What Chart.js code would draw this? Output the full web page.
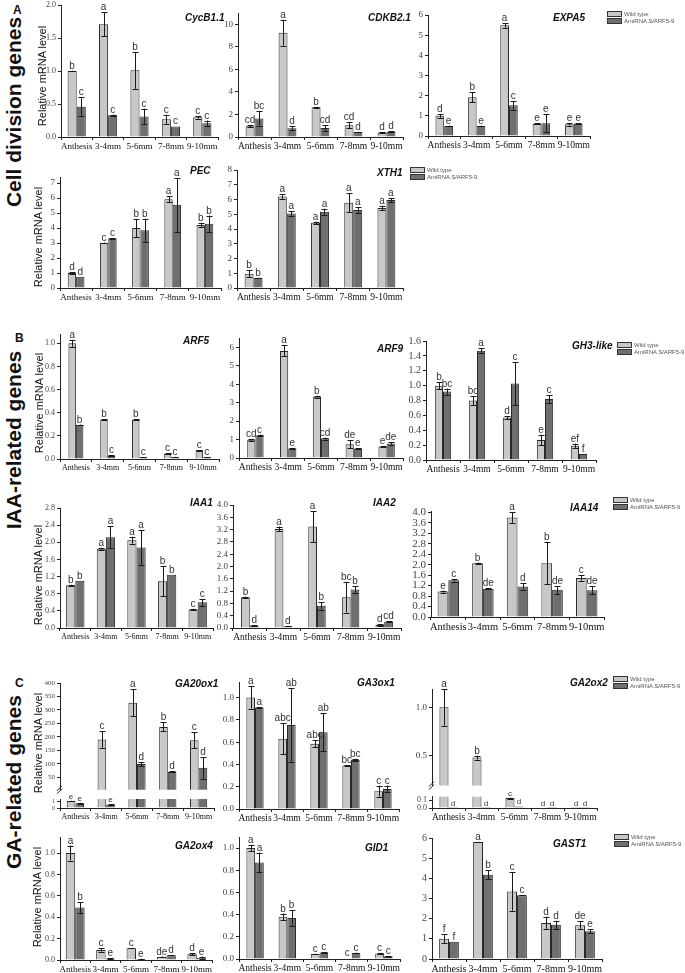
<!DOCTYPE html>
<html>
<head>
<meta charset="utf-8">
<script src="https://cdn.jsdelivr.net/npm/chart.js@4"></script>
<style>
body { margin: 0; background: #fff; }
#fig { position: relative; width: 685px; height: 973px; overflow: hidden; font-family: "Liberation Sans", Arial, sans-serif; }
#fig canvas { position: absolute; }
.t { position: absolute; font: italic bold 10px "Liberation Sans", Arial, sans-serif; color: #111; white-space: nowrap; transform: translateY(-50%); }
.rot { position: absolute; white-space: nowrap; transform: translate(-50%, -50%) rotate(-90deg); color: #111; }
.grp { font-weight: bold; font-size: 21px; }
.yt { font-size: 11px; }
.lt { position: absolute; font-weight: bold; font-size: 12px; color: #111; }
.lg { position: absolute; font-size: 6px; color: #555; line-height: 7px; white-space: nowrap; }
.lg span { display: inline-block; width: 13px; height: 4px; border: 1px solid #333; margin-right: 2px; vertical-align: middle; }
</style>
</head>
<body>
<div id="fig"></div>
<script>
var cats = ['Anthesis', '3-4mm', '5-6mm', '7-8mm', '9-10mm'];
var serif = "'Liberation Serif', 'Times New Roman', 'DejaVu Serif', serif";

// ---- Cell division genes ----
var cycB_wt = [1.0, 1.71, 1.01, 0.27, 0.30];
var cycB_wtErr = [0.005, 0.18, 0.28, 0.07, 0.02];
var cycB_ami = [0.46, 0.33, 0.31, 0.16, 0.21];
var cycB_amiErr = [0.14, 0.01, 0.12, 0, 0.04];
var cycB_wtSig = ['b', 'a', 'b', 'c', 'c'];
var cycB_amiSig = ['c', 'c', 'c', 'c', 'c'];
var cycB_ticks = [0, 0.5, 1.0, 1.5, 2.0];

var cdkb_wt = [0.96, 9.25, 2.63, 1.04, 0.40];
var cdkb_wtErr = [0.1, 1.15, 0.05, 0.25, 0.02];
var cdkb_ami = [1.65, 0.78, 0.80, 0.45, 0.45];
var cdkb_amiErr = [0.65, 0.2, 0.25, 0.02, 0.05];
var cdkb_wtSig = ['cd', 'a', 'b', 'cd', 'd'];
var cdkb_amiSig = ['bc', 'd', 'cd', 'd', 'd'];
var cdkb_ticks = [0, 2, 4, 6, 8, 10];

var expa_wt = [1.0, 1.92, 5.49, 0.60, 0.58];
var expa_wtErr = [0.1, 0.25, 0.12, 0.02, 0.07];
var expa_ami = [0.50, 0.50, 1.52, 0.63, 0.61];
var expa_amiErr = [0.02, 0.02, 0.22, 0.45, 0.03];
var expa_wtSig = ['d', 'b', 'a', 'e', 'e'];
var expa_amiSig = ['e', 'e', 'c', 'e', 'e'];
var expa_ticks = [0, 1, 2, 3, 4, 5, 6];

var pec_wt = [1.0, 3.0, 4.0, 5.92, 4.2];
var pec_wtErr = [0.05, 0.03, 0.6, 0.2, 0.15];
var pec_ami = [0.75, 3.32, 3.85, 5.55, 4.28];
var pec_amiErr = [0, 0.02, 0.78, 1.8, 0.55];
var pec_wtSig = ['d', 'c', 'b', 'a', 'b'];
var pec_amiSig = ['d', 'c', 'b', 'a', 'b'];
var pec_ticks = [0, 1, 2, 3, 4, 5, 6, 7];

var xth_wt = [0.97, 6.2, 4.42, 5.78, 5.42];
var xth_wtErr = [0.25, 0.15, 0.08, 0.65, 0.15];
var xth_ami = [0.68, 5.05, 5.17, 5.28, 5.96];
var xth_amiErr = [0.02, 0.15, 0.2, 0.2, 0.12];
var xth_wtSig = ['b', 'a', 'a', 'a', 'a'];
var xth_amiSig = ['b', 'a', 'a', 'a', 'a'];
var xth_ticks = [0, 1, 2, 3, 4, 5, 6, 7, 8];

// ---- IAA-related genes ----
var arf5_wt = [1.0, 0.34, 0.34, 0.046, 0.075];
var arf5_wtErr = [0.03, 0.003, 0.003, 0.005, 0.003];
var arf5_ami = [0.296, 0.03, 0.015, 0.017, 0.015];
var arf5_amiErr = [0.002, 0.002, 0.002, 0.002, 0.002];
var arf5_wtSig = ['a', 'b', 'b', 'c', 'c'];
var arf5_amiSig = ['b', 'c', 'c', 'c', 'c'];
var arf5_ticks = [0, 0.2, 0.4, 0.6, 0.8, 1.0];

var arf9_wt = [0.99, 5.8, 3.32, 0.75, 0.62];
var arf9_wtErr = [0.05, 0.3, 0.05, 0.2, 0.03];
var arf9_ami = [1.22, 0.52, 1.05, 0.50, 0.78];
var arf9_amiErr = [0.05, 0.02, 0.05, 0.02, 0.06];
var arf9_wtSig = ['cd', 'a', 'b', 'de', 'e'];
var arf9_amiSig = ['c', 'e', 'cd', 'e', 'de'];
var arf9_ticks = [0, 1, 2, 3, 4, 5, 6];

var gh3_wt = [1.0, 0.80, 0.57, 0.27, 0.19];
var gh3_wtErr = [0.05, 0.06, 0.02, 0.07, 0.03];
var gh3_ami = [0.92, 1.47, 1.03, 0.82, 0.08];
var gh3_amiErr = [0.04, 0.03, 0.29, 0.05, 0];
var gh3_wtSig = ['b', 'bc', 'd', 'e', 'ef'];
var gh3_amiSig = ['bc', 'a', 'c', 'c', 'f'];
var gh3_ticks = [0, 0.2, 0.4, 0.6, 0.8, 1.0, 1.2, 1.4, 1.6];

var iaa1_wt = [1.0, 1.85, 2.05, 1.09, 0.44];
var iaa1_wtErr = [0.01, 0.02, 0.08, 0.35, 0.01];
var iaa1_ami = [1.10, 2.12, 1.88, 1.24, 0.60];
var iaa1_amiErr = [0, 0.26, 0.4, 0, 0.08];
var iaa1_wtSig = ['b', 'a', 'a', 'b', 'c'];
var iaa1_amiSig = ['b', 'a', 'a', 'b', 'c'];
var iaa1_ticks = [0, 0.4, 0.8, 1.2, 1.6, 2.0, 2.4, 2.8];

var iaa2_wt = [1.0, 3.22, 3.3, 1.0, 0.10];
var iaa2_wtErr = [0.02, 0.08, 0.5, 0.5, 0.02];
var iaa2_ami = [0.08, 0.06, 0.72, 1.25, 0.20];
var iaa2_amiErr = [0.01, 0.01, 0.12, 0.1, 0.02];
var iaa2_wtSig = ['b', 'a', 'a', 'bc', 'd'];
var iaa2_amiSig = ['d', 'd', 'b', 'b', 'cd'];
var iaa2_ticks = [0, 0.4, 0.8, 1.2, 1.6, 2.0, 2.4, 2.8, 3.2, 3.6, 4.0];

var iaa14_wt = [0.97, 2.05, 3.8, 2.05, 1.49];
var iaa14_wtErr = [0.04, 0.03, 0.2, 0.8, 0.1];
var iaa14_ami = [1.40, 1.08, 1.17, 1.04, 1.02];
var iaa14_amiErr = [0.05, 0.02, 0.12, 0.15, 0.15];
var iaa14_wtSig = ['e', 'b', 'a', 'b', 'c'];
var iaa14_amiSig = ['c', 'de', 'd', 'de', 'de'];
var iaa14_ticks = [0, 0.4, 0.8, 1.2, 1.6, 2.0, 2.4, 2.8, 3.2, 3.6, 4.0];

// ---- GA-related genes ----
var ga20_wt = [1.0, 190, 327, 237, 187];
var ga20_wtErr = [0.05, 30, 50, 17, 30];
var ga20_ami = [0.7, 0.5, 99, 70, 85];
var ga20_amiErr = [0.05, 0.05, 8, 2, 40];
var ga20_wtSig = ['e', 'c', 'a', 'b', 'c'];
var ga20_amiSig = ['e', 'e', 'd', 'd', 'd'];
var ga20_ticks = [50, 100, 150, 200, 250, 300, 350, 400];
var ga20_lowTicks = [0, 1];

var ga3_wt = [1.0, 0.63, 0.585, 0.39, 0.16];
var ga3_wtErr = [0.1, 0.14, 0.03, 0.005, 0.05];
var ga3_ami = [0.91, 0.755, 0.69, 0.44, 0.18];
var ga3_amiErr = [0.003, 0.33, 0.17, 0.01, 0.03];
var ga3_wtSig = ['a', 'abc', 'abc', 'bc', 'c'];
var ga3_amiSig = ['a', 'ab', 'ab', 'bc', 'c'];
var ga3_ticks = [0, 0.2, 0.4, 0.6, 0.8, 1.0];

var ga2ox2_wt = [1.0, 0.48, 0.124, 0.005, 0.001];
var ga2ox2_wtErr = [0.19, 0.02, 0.006, 0, 0];
var ga2ox2_ami = [0.001, 0.001, 0.02, 0.001, 0.001];
var ga2ox2_amiErr = [0, 0, 0, 0, 0];
var ga2ox2_wtSig = ['a', 'b', 'c', 'd', 'd'];
var ga2ox2_amiSig = ['d', 'd', 'd', 'd', 'd'];
var ga2ox2_ticks = [0.5, 1.0];
var ga2ox2_lowTicks = [0, 0.1];

var ga2ox4_wt = [1.0, 0.093, 0.11, 0.03, 0.053];
var ga2ox4_wtErr = [0.07, 0.015, 0.002, 0.002, 0.01];
var ga2ox4_ami = [0.49, 0.015, 0.01, 0.045, 0.022];
var ga2ox4_amiErr = [0.05, 0.003, 0.002, 0.002, 0.01];
var ga2ox4_wtSig = ['a', 'c', 'c', 'de', 'd'];
var ga2ox4_amiSig = ['b', 'e', 'e', 'd', 'e'];
var ga2ox4_ticks = [0, 0.2, 0.4, 0.6, 0.8, 1.0];

var gid1_wt = [1.0, 0.38, 0.045, 0.005, 0.05];
var gid1_wtErr = [0.03, 0.03, 0.003, 0, 0.003];
var gid1_ami = [0.87, 0.37, 0.058, 0.055, 0.025];
var gid1_amiErr = [0.09, 0.07, 0.003, 0.003, 0.003];
var gid1_wtSig = ['a', 'b', 'c', 'c', 'c'];
var gid1_amiSig = ['a', 'b', 'c', 'c', 'c'];
var gid1_ticks = [0, 0.2, 0.4, 0.6, 0.8, 1.0];

var gast_wt = [1.0, 5.8, 3.35, 1.79, 1.67];
var gast_wtErr = [0.22, 0.01, 0.95, 0.3, 0.2];
var gast_ami = [0.85, 4.18, 3.16, 1.70, 1.37];
var gast_amiErr = [0, 0.22, 0.01, 0.2, 0.1];
var gast_wtSig = ['f', 'a', 'c', 'd', 'de'];
var gast_amiSig = ['f', 'b', 'c', 'd', 'e'];
var gast_ticks = [0, 1, 2, 3, 4, 5, 6];

var fig = document.getElementById('fig');

// error bars, letters and axis break marks
var barMarks = {
  id: 'barMarks',
  afterDatasetsDraw: function(chart, args, opts) {
    var ctx = chart.ctx, ys = chart.scales.y;
    ctx.save();
    ctx.strokeStyle = '#1a1a1a';
    ctx.lineWidth = 1;
    ctx.fillStyle = '#333';
    ctx.textAlign = 'center';
    ctx.font = opts.size + 'px "Liberation Sans", Arial, sans-serif';
    chart.data.datasets.forEach(function(ds, di) {
      chart.getDatasetMeta(di).data.forEach(function(bar, i) {
        var v = ds.data[i], e = ds.err[i];
        if (v > ys.max || v < ys.min) return;
        var x = Math.round(bar.x) + 0.5;
        var hi = ys.getPixelForValue(v + e);
        if (e > 0) {
          var lo = ys.getPixelForValue(Math.max(v - e, ys.min));
          ctx.beginPath();
          ctx.moveTo(x, hi); ctx.lineTo(x, lo);
          ctx.moveTo(x - 3, Math.round(hi) + 0.5); ctx.lineTo(x + 3, Math.round(hi) + 0.5);
          ctx.moveTo(x - 3, Math.round(lo) + 0.5); ctx.lineTo(x + 3, Math.round(lo) + 0.5);
          ctx.stroke();
        }
        ctx.fillText(ds.sig[i], bar.x, Math.min(hi, bar.y) - 2);
      });
    });
    if (opts.brk) {
      var a = chart.chartArea;
      ctx.beginPath();
      ctx.moveTo(a.left - 3, a.bottom + 1); ctx.lineTo(a.left + 2, a.bottom - 4);
      ctx.moveTo(a.left - 3, a.bottom + 4); ctx.lineTo(a.left + 2, a.bottom - 1);
      ctx.stroke();
    }
    ctx.restore();
  }
};
Chart.register(barMarks);

function drawChart(p, o) {
  var yW = 30, padR = 8;
  var xH = o.showX ? 16 : 0;
  var W = p.x2 - p.ax + yW + padR;
  var H = o.yBot - o.yTop + o.padT + xH;
  var cv = document.createElement('canvas');
  cv.width = W;
  cv.height = H;
  cv.style.left = (p.ax - yW) + 'px';
  cv.style.top = (o.yTop - o.padT) + 'px';
  fig.appendChild(cv);

  new Chart(cv, {
    type: 'bar',
    data: {
      labels: cats,
      datasets: [
        { data: p.wt, err: p.wtE, sig: p.wtS, backgroundColor: '#c8c8c8', borderColor: '#2a2a2a', borderWidth: 1, borderSkipped: 'start' },
        { data: p.am, err: p.amE, sig: p.amS, backgroundColor: '#6f6f6f', borderColor: '#2a2a2a', borderWidth: 1, borderSkipped: 'start' }
      ]
    },
    options: {
      responsive: false,
      animation: false,
      devicePixelRatio: 1,
      layout: { padding: { top: o.padT, right: padR, left: 0, bottom: 0 } },
      datasets: { bar: { categoryPercentage: p.cp, barPercentage: 1 } },
      plugins: {
        legend: { display: false },
        tooltip: { enabled: false },
        barMarks: { size: o.ls || 10, brk: o.brk }
      },
      scales: {
        x: {
          display: o.showX,
          grid: { display: true, drawOnChartArea: false, drawTicks: true, tickLength: 3, color: '#222' },
          border: { display: true, color: '#222', width: 1 },
          ticks: { font: { family: serif, size: p.xf }, color: '#111', padding: 1, maxRotation: 0, autoSkip: false },
          afterFit: function(s) { s.height = xH; }
        },
        y: {
          min: o.min,
          max: o.max,
          afterBuildTicks: function(s) { s.ticks = o.ticks.map(function(v) { return { value: v }; }); },
          grid: { drawOnChartArea: false, drawTicks: true, tickLength: 3, color: '#222' },
          border: { display: true, color: '#222', width: 1 },
          ticks: {
            autoSkip: false,
            font: { family: serif, size: o.tf || p.tf },
            color: '#444',
            padding: 2,
            callback: function(v) { return v.toFixed(o.dec !== undefined ? o.dec : p.dec); }
          },
          afterFit: function(s) { s.width = yW; }
        }
      }
    }
  });
}

function addText(cls, html, x, y) {
  var d = document.createElement('div');
  d.className = cls;
  d.innerHTML = html;
  d.style.left = x + 'px';
  d.style.top = y + 'px';
  fig.appendChild(d);
}

function legend(x, y) {
  addText('lg', '<span style="background:#c8c8c8"></span>Wild type', x, y);
  addText('lg', '<span style="background:#6f6f6f"></span>AmiRNA <i>Sl</i>ARF5-9', x, y + 7);
}

var panels = [
  { title: 'CycB1.1', tx: 185, ty: 17, wt: cycB_wt, wtE: cycB_wtErr, am: cycB_ami, amE: cycB_amiErr, wtS: cycB_wtSig, amS: cycB_amiSig, ticks: cycB_ticks,
    ax: 61, x2: 218, yTop: 5, yBot: 137, max: 2.0, dec: 1, cp: 0.58, tf: 8, xf: 9 },
  { title: 'CDKB2.1', tx: 368, ty: 17, wt: cdkb_wt, wtE: cdkb_wtErr, am: cdkb_ami, amE: cdkb_amiErr, wtS: cdkb_wtSig, amS: cdkb_amiSig, ticks: cdkb_ticks,
    ax: 238, x2: 403, yTop: 13, yBot: 137, max: 11, dec: 0, cp: 0.54, tf: 9, xf: 9.5 },
  { title: 'EXPA5', tx: 553, ty: 17, wt: expa_wt, wtE: expa_wtErr, am: expa_ami, amE: expa_amiErr, wtS: expa_wtSig, amS: expa_amiSig, ticks: expa_ticks,
    ax: 428, x2: 590, yTop: 15, yBot: 136, max: 6, dec: 0, cp: 0.54, tf: 9, xf: 9.5 },
  { title: 'PEC', tx: 190, ty: 170, wt: pec_wt, wtE: pec_wtErr, am: pec_ami, amE: pec_amiErr, wtS: pec_wtSig, amS: pec_amiSig, ticks: pec_ticks,
    ax: 60, x2: 221, yTop: 177, yBot: 288, max: 7.4, dec: 0, cp: 0.52, tf: 9, xf: 9 },
  { title: 'XTH1', tx: 377, ty: 172, wt: xth_wt, wtE: xth_wtErr, am: xth_ami, amE: xth_amiErr, wtS: xth_wtSig, amS: xth_amiSig, ticks: xth_ticks,
    ax: 237, x2: 403, yTop: 170, yBot: 288, max: 8, dec: 0, cp: 0.54, tf: 9, xf: 9.5 },
  { title: 'ARF5', tx: 183, ty: 340, wt: arf5_wt, wtE: arf5_wtErr, am: arf5_ami, amE: arf5_amiErr, wtS: arf5_wtSig, amS: arf5_amiSig, ticks: arf5_ticks,
    ax: 60, x2: 219, yTop: 334, yBot: 459, max: 1.08, dec: 1, cp: 0.47, tf: 8, xf: 8 },
  { title: 'ARF9', tx: 377, ty: 348, wt: arf9_wt, wtE: arf9_wtErr, am: arf9_ami, amE: arf9_amiErr, wtS: arf9_wtSig, amS: arf9_amiSig, ticks: arf9_ticks,
    ax: 239, x2: 403, yTop: 338, yBot: 458, max: 6.5, dec: 0, cp: 0.5, tf: 9, xf: 9.5 },
  { title: 'GH3-like', tx: 572, ty: 345, wt: gh3_wt, wtE: gh3_wtErr, am: gh3_ami, amE: gh3_amiErr, wtS: gh3_wtSig, amS: gh3_amiSig, ticks: gh3_ticks,
    ax: 426, x2: 596, yTop: 341, yBot: 460, max: 1.6, dec: 1, cp: 0.48, tf: 10, xf: 9.5 },
  { title: 'IAA1', tx: 190, ty: 502, wt: iaa1_wt, wtE: iaa1_wtErr, am: iaa1_ami, amE: iaa1_amiErr, wtS: iaa1_wtSig, amS: iaa1_amiSig, ticks: iaa1_ticks,
    ax: 60, x2: 213, yTop: 508, yBot: 628, max: 2.8, dec: 1, cp: 0.6, tf: 8, xf: 8 },
  { title: 'IAA2', tx: 373, ty: 502, wt: iaa2_wt, wtE: iaa2_wtErr, am: iaa2_ami, amE: iaa2_amiErr, wtS: iaa2_wtSig, amS: iaa2_amiSig, ticks: iaa2_ticks,
    ax: 233, x2: 401, yTop: 505, yBot: 628, max: 4.0, dec: 1, cp: 0.52, tf: 9, xf: 9.5 },
  { title: 'IAA14', tx: 570, ty: 507, wt: iaa14_wt, wtE: iaa14_wtErr, am: iaa14_ami, amE: iaa14_amiErr, wtS: iaa14_wtSig, amS: iaa14_amiSig, ticks: iaa14_ticks,
    ax: 431, x2: 604, yTop: 511, yBot: 617, max: 4.05, dec: 1, cp: 0.62, tf: 11, xf: 10.5 },
  { title: 'GA20ox1', tx: 175, ty: 683, wt: ga20_wt, wtE: ga20_wtErr, am: ga20_ami, amE: ga20_amiErr, wtS: ga20_wtSig, amS: ga20_amiSig, ticks: ga20_ticks,
    ax: 60, x2: 214, yTop: 683, yBot: 808, max: 400, dec: 0, cp: 0.56, tf: 7, xf: 8,
    brk: { min: 3.5, yBrk: 796, yLow: 799, lowMax: 1.3, lowTicks: ga20_lowTicks, lowDec: 0 } },
  { title: 'GA3ox1', tx: 357, ty: 682, wt: ga3_wt, wtE: ga3_wtErr, am: ga3_ami, amE: ga3_amiErr, wtS: ga3_wtSig, amS: ga3_amiSig, ticks: ga3_ticks,
    ax: 239, x2: 399, yTop: 682, yBot: 809, max: 1.14, dec: 1, cp: 0.54, tf: 9, xf: 9.5 },
  { title: 'GA2ox2', tx: 570, ty: 682, wt: ga2ox2_wt, wtE: ga2ox2_wtErr, am: ga2ox2_ami, amE: ga2ox2_amiErr, wtS: ga2ox2_wtSig, amS: ga2ox2_amiSig, ticks: ga2ox2_ticks,
    ax: 432, x2: 597, yTop: 689, yBot: 808, max: 1.19, dec: 1, cp: 0.55, tf: 9, xf: 9.5,
    brk: { min: 0.19, yBrk: 793, yLow: 796, lowMax: 0.14, lowTicks: ga2ox2_lowTicks, lowDec: 1 } },
  { title: 'GA2ox4', tx: 175, ty: 845, wt: ga2ox4_wt, wtE: ga2ox4_wtErr, am: ga2ox4_ami, amE: ga2ox4_amiErr, wtS: ga2ox4_wtSig, amS: ga2ox4_amiSig, ticks: ga2ox4_ticks,
    ax: 60, x2: 212, yTop: 837, yBot: 960, max: 1.15, dec: 1, cp: 0.62, tf: 8, xf: 9 },
  { title: 'GID1', tx: 365, ty: 847, wt: gid1_wt, wtE: gid1_wtErr, am: gid1_ami, amE: gid1_amiErr, wtS: gid1_wtSig, amS: gid1_amiSig, ticks: gid1_ticks,
    ax: 239, x2: 400, yTop: 837, yBot: 959, max: 1.1, dec: 1, cp: 0.54, tf: 9, xf: 9.5 },
  { title: 'GAST1', tx: 553, ty: 843, wt: gast_wt, wtE: gast_wtErr, am: gast_ami, amE: gast_amiErr, wtS: gast_wtSig, amS: gast_amiSig, ticks: gast_ticks,
    ax: 432, x2: 602, yTop: 838, yBot: 959, max: 6, dec: 0, cp: 0.58, tf: 10, xf: 10 }
];

panels.forEach(function(p) {
  if (p.brk) {
    var b = p.brk;
    drawChart(p, { yTop: p.yTop, yBot: b.yBrk, min: b.min, max: p.max, ticks: p.ticks, showX: false, padT: 14, brk: true });
    drawChart(p, { yTop: b.yLow, yBot: p.yBot, min: 0, max: b.lowMax, ticks: b.lowTicks, showX: true, padT: 6, dec: b.lowDec, tf: p.tf - 1, ls: 8 });
  } else {
    drawChart(p, { yTop: p.yTop, yBot: p.yBot, min: 0, max: p.max, ticks: p.ticks, showX: true, padT: 14 });
  }
  addText('t', p.title, p.tx, p.ty);
});

legend(607, 11);
legend(410, 167);
legend(617, 342);
legend(613, 497);
legend(613, 676);
legend(614, 834);

// group labels and panel letters
addText('rot grp', 'Cell division genes', 14, 112);
addText('rot grp', 'IAA-related genes', 14, 440);
addText('rot grp', 'GA-related genes', 14, 782);
addText('lt', 'A', 13, 3);
addText('lt', 'B', 15, 331);
addText('lt', 'C', 15, 676);

[[42, 76], [38, 237], [39, 403], [38, 575], [38, 743], [37, 897]].forEach(function(c) {
  addText('rot yt', 'Relative mRNA level', c[0], c[1]);
});
</script>
</body>
</html>
